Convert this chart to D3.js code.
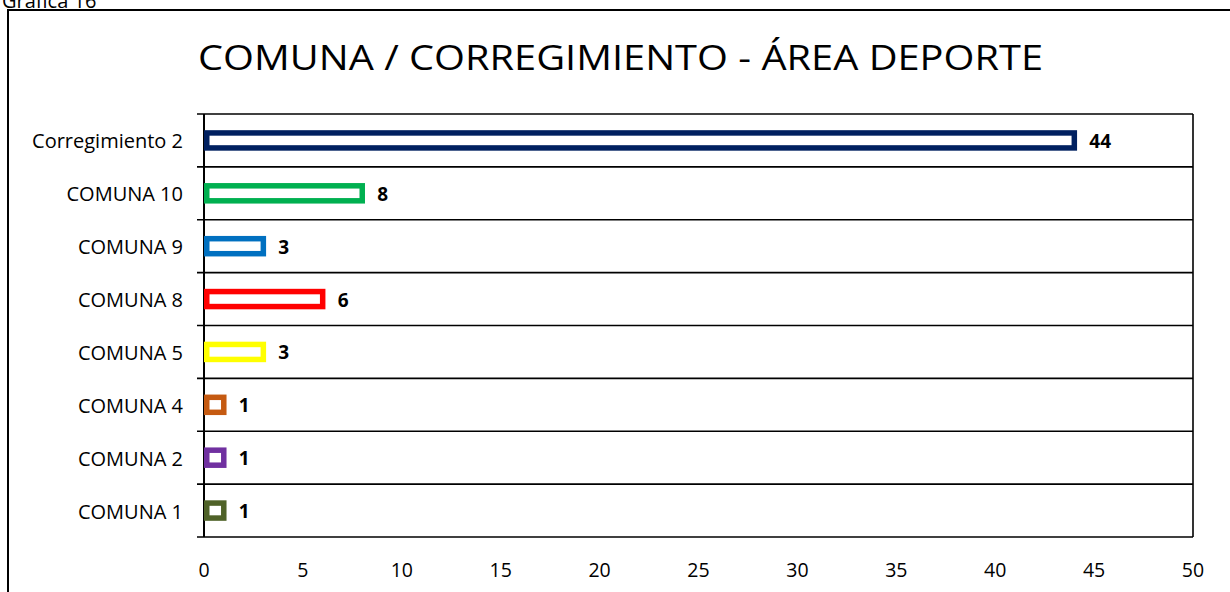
<!DOCTYPE html>
<html><head><meta charset="utf-8">
<script src="https://cdn.jsdelivr.net/npm/d3@7"></script>
<style>body{margin:0;background:#fff}svg{display:block}text{font-family:"Open Sans",Carlito,Calibri,sans-serif}</style>
</head><body>
<svg id="c" width="1230" height="592"></svg>
<script>
const categories = ["Corregimiento 2","COMUNA 10","COMUNA 9","COMUNA 8","COMUNA 5","COMUNA 4","COMUNA 2","COMUNA 1"];
const values = [44, 8, 3, 6, 3, 1, 1, 1];
const colors = ["#002060","#00B050","#0070C0","#FF0000","#FFFF00","#C55A11","#7030A0","#4F6228"];
const xTicks = [0,5,10,15,20,25,30,35,40,45,50];
const title = "COMUNA / CORREGIMIENTO - ÁREA DEPORTE";
const caption = "Grafica 16";

const svg = d3.select("#c");
const L = 204, R = 1193, T = 114, B = 537;
const x = d3.scaleLinear().domain([0,50]).range([L,R]);
const y = d3.scaleBand().domain(categories).range([T,B]);

// outer frame
svg.append("rect").attr("x",8).attr("y",10).attr("width",1240).attr("height",600)
  .attr("fill","none").attr("stroke","#000").attr("stroke-width",2);
svg.append("text").attr("x",2).attr("y",8).attr("font-size",20).text(caption);

svg.append("text").attr("x",198).attr("y",70).attr("font-size",35)
  .attr("textLength",845).attr("lengthAdjust","spacingAndGlyphs").text(title);

// gridlines at band boundaries
const bounds = categories.map(c=>y(c)).concat([B]);
svg.append("g").selectAll("line").data(bounds).join("line")
  .attr("x1",197).attr("x2",R).attr("y1",d=>d).attr("y2",d=>d)
  .attr("stroke","#000").attr("stroke-width",1.6);
svg.append("line").attr("x1",L).attr("x2",L).attr("y1",T).attr("y2",B).attr("stroke","#000").attr("stroke-width",2);
svg.append("line").attr("x1",R).attr("x2",R).attr("y1",T).attr("y2",B).attr("stroke","#000").attr("stroke-width",1.6);

const bh = 15, sw = 5.5;
svg.append("g").selectAll("rect").data(values).join("rect")
  .attr("x",x(0)+sw/2)
  .attr("y",(d,i)=>y(categories[i])+y.bandwidth()/2-bh/2)
  .attr("width",d=>x(d)-x(0)-sw/2)
  .attr("height",bh)
  .attr("fill","#fff").attr("stroke",(d,i)=>colors[i]).attr("stroke-width",sw);

svg.append("g").selectAll("text").data(values).join("text")
  .attr("x",d=>x(d)+15)
  .attr("y",(d,i)=>y(categories[i])+y.bandwidth()/2+7.5)
  .attr("font-size",19).attr("font-weight","bold").text(d=>d);

svg.append("g").selectAll("text").data(categories).join("text")
  .attr("x",183).attr("y",d=>y(d)+y.bandwidth()/2+8)
  .attr("text-anchor","end").attr("font-size",20).text(d=>d);

svg.append("g").selectAll("text").data(xTicks).join("text")
  .attr("x",d=>x(d)).attr("y",577).attr("text-anchor","middle").attr("font-size",19.5).text(d=>d);
</script>
</body></html>
